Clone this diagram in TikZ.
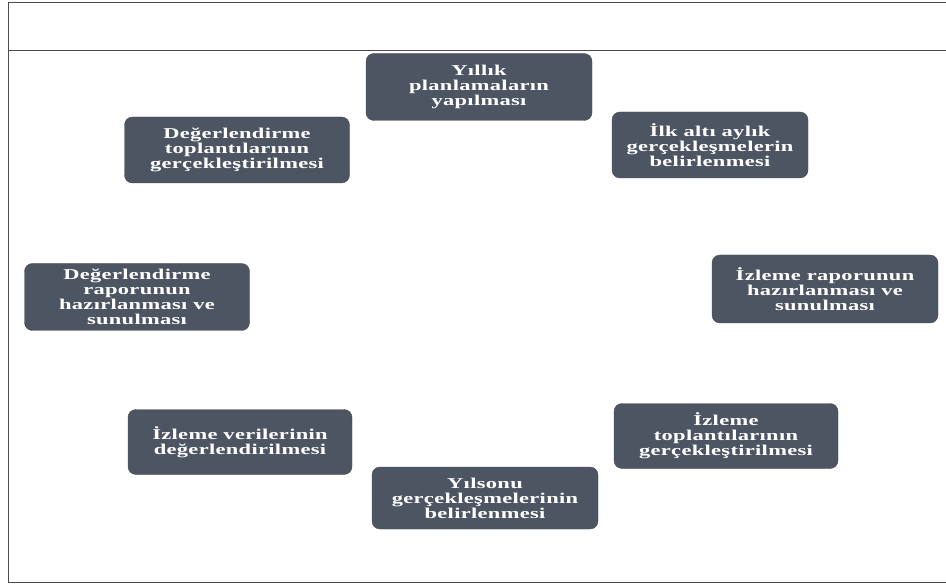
\documentclass[tikz,border=0pt]{standalone}
\usepackage{fontspec}
\newfontfamily\boxfont{Liberation Serif}[FakeStretch=1.5,LetterSpace=2]
\begin{document}
\begin{tikzpicture}[x=1pt,y=-1pt,
  stepbox/.style={draw=black!70, fill=boxfill, rounded corners=8pt, text=white,
    align=center, inner sep=2pt, font=\boxfont\fontsize{15}{15}\selectfont\bfseries},
  frame/.style={draw=black!70, line width=0.8pt}]
\definecolor{boxfill}{HTML}{4D5563}
\useasboundingbox (0,0) rectangle (946,588);
\draw[frame] (946,2) -- (8,2) -- (8,582) -- (946,582);
\draw[frame] (8,50) -- (946,50);
\node[stepbox, minimum width=226pt, minimum height=67pt] (n1) at (479,87) {Yıllık\\planlamaların\\yapılması};
\node[stepbox, minimum width=196pt, minimum height=66pt] (n2) at (710,145) {İlk altı aylık\\gerçekleşmelerin\\belirlenmesi};
\node[stepbox, minimum width=226pt, minimum height=68pt] (n3) at (825,289) {İzleme raporunun\\hazırlanması ve\\sunulması};
\node[stepbox, minimum width=224pt, minimum height=65pt] (n4) at (726,436) {İzleme\\toplantılarının\\gerçekleştirilmesi};
\node[stepbox, minimum width=226pt, minimum height=62pt] (n5) at (485,498) {Yılsonu\\gerçekleşmelerinin\\belirlenmesi};
\node[stepbox, minimum width=224pt, minimum height=65pt] (n6) at (240,442) {İzleme verilerinin\\değerlendirilmesi};
\node[stepbox, minimum width=225pt, minimum height=67pt] (n7) at (137,297) {Değerlendirme\\raporunun\\hazırlanması ve\\sunulması};
\node[stepbox, minimum width=225pt, minimum height=66pt] (n8) at (237,150) {Değerlendirme\\toplantılarının\\gerçekleştirilmesi};
\end{tikzpicture}
\end{document}
